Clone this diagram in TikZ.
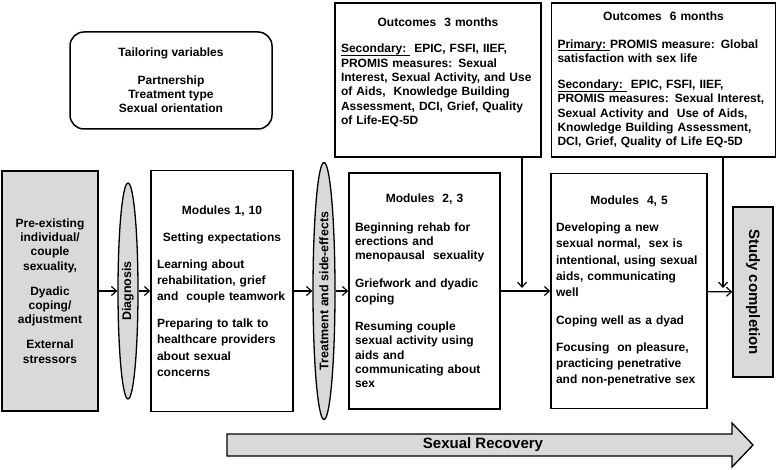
\documentclass[tikz,border=0pt]{standalone}
\usepackage{fontspec}
\setmainfont{Liberation Sans}
\usetikzlibrary{shapes.geometric,arrows.meta}
\setlength{\parindent}{0pt}
% underline that keeps the line spacing
\newcommand{\ulhead}[1]{\underline{\smash{#1}\rule[-1pt]{0pt}{0pt}}}

\begin{document}
\begin{tikzpicture}[
        x=1pt, y=-1pt,
        txt/.style={font=\fontsize{12}{14.3}\selectfont\bfseries},
        squarebox/.style={
            draw, rectangle, line width=1.5pt, inner xsep=6pt, inner ysep=0pt, align=left, txt
        },
        grayoval/.style={
            draw, ellipse, line width=1.3pt, fill=gray!30, inner sep=0pt, txt
        },
        flow/.style={
            line width=1.2pt, -{Straight Barb[length=5pt,width=9pt]}
        }
    ]
    \useasboundingbox (0,0) rectangle (778,470);

    % top row
    \node[squarebox, rounded corners=14pt, align=center, minimum width=202pt, minimum height=97pt] (tailor) at (171,80.5)
        {Tailoring variables\\[13.5pt] Partnership\\ Treatment type\\ Sexual orientation};
    \node[squarebox, text width=194pt, minimum height=154pt] (out3) at (438,80)
        {{\centering Outcomes\ \ 3 months\par}\vspace{12.5pt}
        \ulhead{Secondary:\ }\ EPIC, FSFI, IIEF,\\ PROMIS measures: Sexual\\ Interest, Sexual Activity,\ and Use\\ of Aids,\ \ Knowledge Building\\ Assessment, DCI, Grief, Quality\\ of Life-EQ-5D\par\vspace{4pt}\hbox{}};
    \node[squarebox, text width=212pt, minimum height=154pt] (out6) at (663.5,80)
        {{\centering Outcomes\ \ 6 months\par}\vspace{13.5pt}
        \ulhead{Primary:\ }PROMIS measure: Global\\ satisfaction with sex life\par\vspace{12pt}
        \ulhead{Secondary:\ }\ EPIC, FSFI, IIEF,\\ PROMIS measures: Sexual Interest,\\ Sexual Activity\ and\ \ Use of Aids,\\ Knowledge Building Assessment,\\ DCI, Grief, Quality of Life EQ-5D};

    % middle row
    \node[squarebox, fill=gray!30, align=center, minimum width=96pt, minimum height=240pt] (pre) at (50,291)
        {Pre-existing\\ individual/\\ couple\\ sexuality,\\[10.7pt] Dyadic\\ coping/\\ adjustment\\[10.7pt] External\\ stressors};
    \node[grayoval, rotate=90, minimum width=216pt, minimum height=20pt, font=\fontsize{12.5}{15}\selectfont\bfseries] (diag) at (128,291) {Diagnosis};
    \node[squarebox, text width=130pt, minimum height=241pt, font=\fontsize{12}{16.3}\selectfont\bfseries] (mod1) at (222,291)
        {{\centering Modules 1, 10\par}\vspace{10.7pt}
        {\centering Setting expectations\par}\vspace{10.7pt}
        Learning about\\ rehabilitation, grief\\ and\ \ couple teamwork\par\vspace{10.7pt}
        Preparing to talk to\\ healthcare providers\\ about sexual\\ concerns};
    \node[grayoval, rotate=90, minimum width=257pt, minimum height=22pt, font=\fontsize{12.5}{15}\selectfont\bfseries] (treat) at (324,291) {Treatment and side-effects};
    \node[squarebox, text width=139pt, minimum height=236pt] (mod2) at (424.5,291)
        {{\centering Modules\ \ 2, 3\par}\vspace{14pt}
        Beginning rehab for\\ erections and\\ menopausal\ \ sexuality\par\vspace{14pt}
        Griefwork and dyadic\\ coping\par\vspace{14pt}
        Resuming couple\\ sexual activity using\\ aids and\\ communicating\ about\\ sex};
    \node[squarebox, text width=146pt, inner xsep=5pt, minimum height=235pt, font=\fontsize{12}{16.3}\selectfont\bfseries] (mod4) at (629,291)
        {{\centering Modules\ \ 4, 5\par}\vspace{10.7pt}
        Developing a new\\ sexual normal,\ \ sex is\\ intentional, using sexual\\ aids, communicating\\ well\par\vspace{12pt}
        Coping well as a\ dyad\par\vspace{10pt}
        Focusing\ \ on pleasure,\\ practicing penetrative\\ and non-penetrative sex};
    \node[squarebox, fill=gray!30, rotate=-90, minimum width=170pt, minimum height=40pt, font=\fontsize{15}{18}\selectfont\bfseries] (study) at (753,292) {Study completion};

    % bottom arrow
    \draw[line width=1.3pt, fill=gray!30] (227,434) -- (732,434) -- (732,423) -- (753,445) -- (732,467) -- (732,456) -- (227,456) -- cycle;
    \node[font=\fontsize{15}{18}\selectfont\bfseries] (recovery) at (483,445) {Sexual Recovery};

    % connectors
    \draw[flow] (pre) -- (diag);
    \draw[flow] (diag) -- (mod1);
    \draw[flow] (mod1) -- (treat);
    \draw[flow] (treat) -- (mod2);
    \draw[flow] (mod2) -- (mod4);
    \draw[flow] (mod4) -- (study);
    \coordinate (join3) at (522,288);
    \coordinate (join6) at (723,288);
    \draw[flow] (out3.south -| join3) -- (join3);
    \draw[flow] (out6.south -| join6) -- (join6);
\end{tikzpicture}
\end{document}
